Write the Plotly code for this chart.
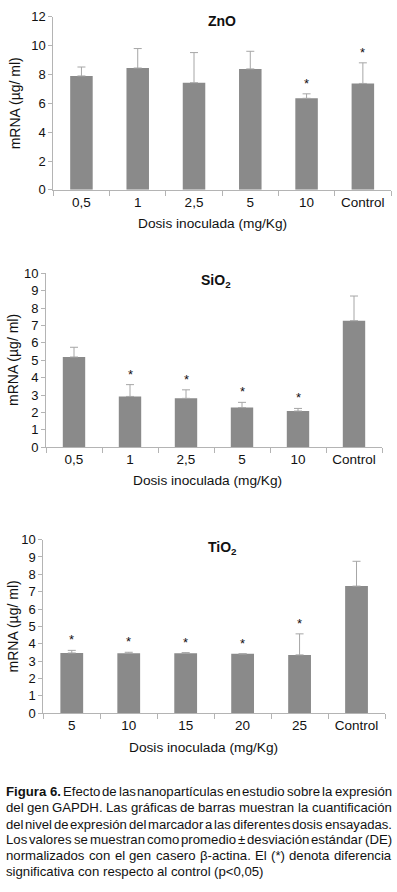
import plotly.graph_objects as go

W, H = 397, 892

# ---------------- data ----------------
zno_cats = ["0,5", "1", "2,5", "5", "10", "Control"]
zno_vals = [7.90, 8.45, 7.43, 8.39, 6.35, 7.38]
zno_err = [0.62, 1.35, 2.09, 1.22, 0.31, 1.43]
zno_sig = [False, False, False, False, True, True]

sio2_cats = ["0,5", "1", "2,5", "5", "10", "Control"]
sio2_vals = [5.19, 2.92, 2.81, 2.28, 2.08, 7.28]
sio2_err = [0.56, 0.68, 0.49, 0.30, 0.15, 1.42]
sio2_sig = [False, True, True, True, True, False]

tio2_cats = ["5", "10", "15", "20", "25", "Control"]
tio2_vals = [3.47, 3.45, 3.45, 3.42, 3.36, 7.32]
tio2_err = [0.15, 0.06, 0.04, 0.0, 1.21, 1.43]
tio2_sig = [True, True, True, True, True, False]

titles = ["<b>ZnO</b>", "<b>SiO<sub>2</sub></b>", "<b>TiO<sub>2</sub></b>"]
x_title = "Dosis inoculada (mg/Kg)"
y_title = "mRNA (µg/ ml)"

caption_lines = [
    "**Figura 6.** Efecto de las nanopartículas en estudio sobre la expresión",
    "del gen GAPDH. Las gráficas de barras muestran la cuantificación",
    "del nivel de expresión del marcador a las diferentes dosis ensayadas.",
    "Los valores se muestran como promedio ± desviación estándar (DE)",
    "normalizados con el gen casero β-actina. El (*) denota diferencia",
    "significativa con respecto al control (p<0,05)",
]

# ---------------- styling / layout ----------------
FONT = "Liberation Sans, Arial, sans-serif"
BAR = "#8a8a8a"
ERR = "#a6a6a6"
AX = "#b4b4b4"

# panel pixel boxes: (x0, x1, ytop, ybottom)
panels = [
    dict(cats=zno_cats, vals=zno_vals, err=zno_err, sig=zno_sig, ymax=12, dtick=2,
         box=(53.3, 391.0, 10.0, 186.0), title_xy=(222, 14), xt_xy=(212.5, 220), yt_xy=(15, 98)),
    dict(cats=sio2_cats, vals=sio2_vals, err=sio2_err, sig=sio2_sig, ymax=10, dtick=1,
         box=(46.0, 382.0, 271.0, 447.7), title_xy=(216, 279), xt_xy=(207.5, 481.7), yt_xy=(13, 359)),
    dict(cats=tio2_cats, vals=tio2_vals, err=tio2_err, sig=tio2_sig, ymax=10, dtick=1,
         box=(43.3, 385.0, 541.7, 718.3), title_xy=(222, 550), xt_xy=(203, 752.7), yt_xy=(13, 630)),
]


def px(x):
    return x / W


def py(y):
    return 1 - y / H


fig = go.Figure()
annotations = []
layout_axes = {}

for i, p in enumerate(panels, start=1):
    xa = "x" if i == 1 else f"x{i}"
    ya = "y" if i == 1 else f"y{i}"
    fig.add_trace(go.Bar(
        x=p["cats"], y=p["vals"], xaxis=xa, yaxis=ya,
        marker=dict(color=BAR, line=dict(width=0)),
        error_y=dict(type="data", array=p["err"], arrayminus=[0] * len(p["err"]),
                     symmetric=False, color=ERR, thickness=1, width=4),
        showlegend=False, hoverinfo="skip",
    ))
    x0, x1, yt, yb = p["box"]
    key = "" if i == 1 else str(i)
    n = len(p["cats"])
    layout_axes[f"xaxis{key}"] = dict(
        domain=[px(x0), px(x1)], anchor=ya, type="category",
        categoryorder="array", categoryarray=p["cats"],
        range=[-0.5, n - 0.5], autorange=False, tickangle=0,
        showline=True, linecolor=AX, linewidth=1,
        ticks="outside", tickson="boundaries", ticklen=5, tickcolor=AX,
        tickfont=dict(family=FONT, size=13.5, color="#111"),
        showgrid=False, zeroline=False, fixedrange=True,
    )
    layout_axes[f"yaxis{key}"] = dict(
        domain=[py(yb), py(yt)], anchor=xa, range=[0, p["ymax"]], autorange=False,
        dtick=p["dtick"], tick0=0,
        showline=True, linecolor=AX, linewidth=1,
        ticks="outside", ticklen=4, tickcolor=AX,
        tickfont=dict(family=FONT, size=13, color="#111"),
        showgrid=False, zeroline=False, fixedrange=True,
    )
    # significance stars (x given as category index)
    for k, (v, e, s) in enumerate(zip(p["vals"], p["err"], p["sig"])):
        if s:
            annotations.append(dict(
                x=k, y=v + e, xref=xa, yref=ya, text="*", showarrow=False,
                yanchor="bottom", yshift=1, font=dict(family=FONT, size=13, color="#111"),
            ))
    tx, ty = p["title_xy"]
    annotations.append(dict(x=px(tx), y=py(ty), xref="paper", yref="paper", text=titles[i - 1],
                            showarrow=False, xanchor="center", yanchor="middle",
                            font=dict(family=FONT, size=14, color="#111")))
    ax_, ay_ = p["xt_xy"]
    annotations.append(dict(x=px(ax_), y=py(ay_), xref="paper", yref="paper", text=x_title,
                            showarrow=False, xanchor="center", yanchor="middle",
                            font=dict(family=FONT, size=13.7, color="#111")))
    bx, by = p["yt_xy"]
    annotations.append(dict(x=px(bx), y=py(by), xref="paper", yref="paper", text=y_title,
                            showarrow=False, xanchor="center", yanchor="middle", textangle=-90,
                            font=dict(family=FONT, size=14, color="#111")))

# ---------------- justified caption ----------------
REG = {' ': 278, '(': 333, ')': 333, '*': 389, ',': 278, '-': 333, '.': 278, '/': 278,
       '<': 584, '±': 549, 'β': 575, 'µ': 576,
       'A': 667, 'B': 667, 'C': 722, 'D': 722, 'E': 667, 'F': 611, 'G': 778, 'H': 722,
       'I': 278, 'K': 667, 'L': 556, 'M': 833, 'N': 722, 'O': 778, 'P': 667, 'R': 722,
       'S': 667, 'T': 611,
       'a': 556, 'b': 556, 'c': 500, 'd': 556, 'e': 556, 'f': 278, 'g': 556, 'h': 556,
       'i': 222, 'j': 222, 'k': 500, 'l': 222, 'm': 833, 'n': 556, 'o': 556, 'p': 556,
       'q': 556, 'r': 333, 's': 500, 't': 278, 'u': 556, 'v': 500, 'w': 722, 'x': 500,
       'y': 500, 'z': 500, 'á': 556, 'é': 556, 'í': 278, 'ó': 556, 'ú': 556, 'ñ': 556}
BOLD = {'F': 611, 'i': 278, 'g': 611, 'u': 611, 'r': 389, 'a': 556, '6': 556, '.': 278, ' ': 278}
for d in "0123456789":
    REG.setdefault(d, 556)


def word_width(w, bold, fs):
    table = BOLD if bold else REG
    return sum(table.get(ch, 556) for ch in w) * fs / 1000.0


CAP_X0, CAP_X1 = 6.0, 391.5
CAP_FS = 13.2
cap_y = [798, 814.5, 831, 847, 863, 879]

for li, line in enumerate(caption_lines):
    parts = []
    if line.startswith("**"):
        end = line.index("**", 2)
        parts.append((line[2:end], True))
        rest = line[end + 2:].strip()
    else:
        rest = line
    for w in rest.split(" "):
        parts.append((w, False))
    fs = CAP_FS
    target = CAP_X1 - CAP_X0
    last = li == len(caption_lines) - 1
    tot = sum(word_width(w, b, fs) for w, b in parts)
    min_gap = 0.14 * fs
    if tot + min_gap * (len(parts) - 1) > target:
        fs = fs * target / (tot + min_gap * (len(parts) - 1))
        tot = sum(word_width(w, b, fs) for w, b in parts)
    gap = 0.278 * fs if last else (target - tot) / (len(parts) - 1)
    x = CAP_X0
    for k, (w, b) in enumerate(parts):
        ww = word_width(w, b, fs)
        if k == 0:
            xa_, xpos = "left", x
        elif k == len(parts) - 1 and not last:
            xa_, xpos = "right", CAP_X1
        else:
            xa_, xpos = "center", x + ww / 2
        annotations.append(dict(
            x=px(xpos), y=py(cap_y[li]), xref="paper", yref="paper",
            text=f"<b>{w}</b>" if b else w, showarrow=False,
            xanchor=xa_, yanchor="middle", borderpad=0, borderwidth=0,
            font=dict(family=FONT, size=fs, color="#111"),
        ))
        x += ww + gap

fig.update_layout(
    width=W, height=H, autosize=False,
    margin=dict(l=0, r=0, t=0, b=0),
    paper_bgcolor="white", plot_bgcolor="white",
    bargap=0.6,
    annotations=annotations,
    **layout_axes,
)

fig.write_html(
    "out.html",
    config={"displayModeBar": False},
    post_script="document.body.style.margin='0';document.body.style.padding='0';"
                "document.body.style.overflow='hidden';",
)
